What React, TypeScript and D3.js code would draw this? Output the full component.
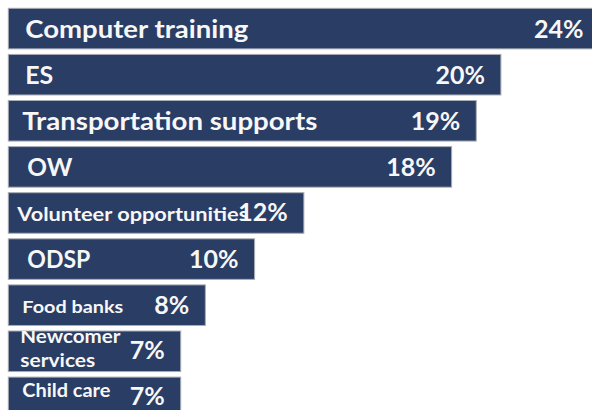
import React from "react";
import * as d3 from "d3";

const categories = [
  "Computer training",
  "ES",
  "Transportation supports",
  "OW",
  "Volunteer opportunities",
  "ODSP",
  "Food banks",
  "Newcomer services",
  "Child care",
];
const values = [24, 20, 19, 18, 12, 10, 8, 7, 7];
const valueLabels = ["24%", "20%", "19%", "18%", "12%", "10%", "8%", "7%", "7%"];
const labelLines = [
  ["Computer training"],
  ["ES"],
  ["Transportation supports"],
  ["OW"],
  ["Volunteer opportunities"],
  ["ODSP"],
  ["Food banks"],
  ["Newcomer", "services"],
  ["Child care"],
];

// presentation only
const labelStyle = [
  { dx: 17, size: 25, widths: [223], dy: [9.5], vdy: 9.5 },
  { dx: 17, size: 25, widths: [28], dy: [9], vdy: 9 },
  { dx: 14, size: 25, widths: [295], dy: [9], vdy: 9 },
  { dx: 19, size: 25, widths: [45], dy: [9], vdy: 9 },
  { dx: 9, size: 19.5, widths: [231], dy: [8], vdy: 8.5 },
  { dx: 19, size: 24, widths: [63], dy: [9], vdy: 9 },
  { dx: 14, size: 17.5, widths: [101], dy: [8], vdy: 8.5 },
  { dx: 12, size: 18, widths: [100, 75], dy: [-8, 16], vdy: 7.5 },
  { dx: 14, size: 19, widths: [88], dy: [0], vdy: 8 },
];

const W = 592;
const H = 410;
const FILL = "#293d65";
const STROKE = "#a9adb5";
const FONT = "Lato, 'Open Sans', sans-serif";

export default function App() {
  const x = d3.scaleLinear().domain([0, 24]).range([8.3, 8.3 + 24 * 24.63]);
  const y = d3
    .scaleBand<string>()
    .domain(categories)
    .range([8.3, 8.3 + 46.1 * (categories.length - 0.12)])
    .paddingInner(0.12)
    .paddingOuter(0);
  const bw = y.bandwidth();

  return (
    <svg
      width={W}
      height={H}
      style={{ position: "fixed", left: 0, top: 0, display: "block", background: "#fff" }}
    >
      <defs>
        {categories.map((c, i) => (
          <clipPath id={`clip${i}`} key={c}>
            <rect x={x(0)} y={y(c)!} width={x(values[i]) - x(0)} height={bw} />
          </clipPath>
        ))}
      </defs>
      {categories.map((c, i) => {
        const y0 = y(c)!;
        const cy = y0 + bw / 2;
        const st = labelStyle[i];
        return (
          <g key={c}>
            <rect
              x={x(0)}
              y={y0}
              width={x(values[i]) - x(0)}
              height={bw}
              fill={FILL}
              stroke={STROKE}
              strokeWidth={1}
            />
            <g clipPath={`url(#clip${i})`}>
              {labelLines[i].map((t, j) => (
                <text
                  key={j}
                  x={x(0) + st.dx}
                  y={cy + st.dy[j]}
                  fill="#f7f7f7"
                  fontFamily={FONT}
                  fontWeight={700}
                  fontSize={st.size}
                  textLength={st.widths[j]}
                  lengthAdjust="spacingAndGlyphs"
                >
                  {t}
                </text>
              ))}
            </g>
            <text
              x={x(values[i]) - 16}
              y={cy + st.vdy}
              textAnchor="end"
              fill="#f7f7f7"
              fontFamily={FONT}
              fontWeight={700}
              fontSize={25}
            >
              {valueLabels[i]}
            </text>
          </g>
        );
      })}
    </svg>
  );
}
